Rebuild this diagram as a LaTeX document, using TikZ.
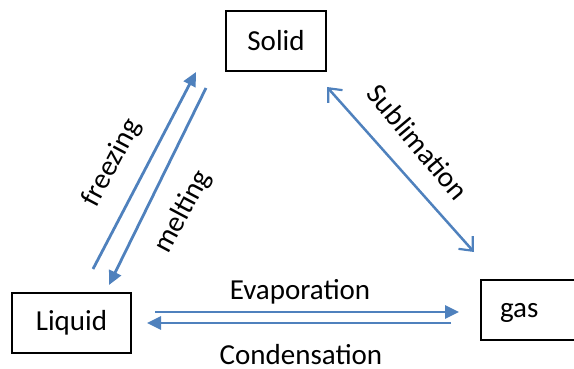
\documentclass[tikz,border=0pt]{standalone}
\usepackage{fontspec}
\setmainfont{Carlito}
\usetikzlibrary{arrows.meta}
\definecolor{phaseblue}{RGB}{79,129,189}

\begin{document}
\begin{tikzpicture}[x=1pt, y=-1pt,
    phase/.style={draw, line width=1.3pt, minimum height=60pt, inner sep=0pt,
        font=\fontsize{29}{35}\selectfont},
    flow/.style={phaseblue, line width=2.8pt, -{Triangle[length=14pt, width=13pt]}},
    twoway/.style={phaseblue, line width=2.5pt,
        {Straight Barb[length=11pt, width=19pt, line width=2.2pt]}-{Straight Barb[length=11pt, width=19pt, line width=2.2pt]}},
    word/.style={font=\fontsize{29}{35}\selectfont, inner sep=0pt}]
        \useasboundingbox (0,0) rectangle (574,369);

        % Draw the three phase boxes
        \node[phase, minimum width=100pt] (solid) at (276,41) {Solid};
        \node[phase, minimum width=119pt] (liquid) at (71.5,323) {Liquid};
        \node[phase, minimum width=120pt, text width=82pt, text depth=0pt, align=left, inner xsep=19pt] (gas) at (541,310) {gas};

        % End points of the arrows
        \coordinate (frz start) at (93,269);
        \coordinate (frz end) at (196,72);
        \coordinate (mlt start) at (206,88);
        \coordinate (mlt end) at (109,285);
        \coordinate (sub start) at (327,87);
        \coordinate (sub end) at (474,252);
        \coordinate (evp start) at (155,312);
        \coordinate (evp end) at (459,312);
        \coordinate (cnd start) at (451,323);
        \coordinate (cnd end) at (147,323);

        % Draw the transitions
        \draw[flow] (frz start) -- (frz end);
        \draw[flow] (mlt start) -- (mlt end);
        \draw[twoway] (sub start) -- (sub end);
        \draw[flow] (evp start) -- (evp end);
        \draw[flow] (cnd start) -- (cnd end);

        % Label the transitions
        \node[word, rotate=62] (freezing) at (112,163) {freezing};
        \node[word, rotate=62] (melting) at (183,212) {melting};
        \node[word, rotate=-50] (sublimation) at (418,142) {Sublimation};
        \node[word] (evaporation) at (300,292) {Evaporation};
        \node[word] (condensation) at (301,355) {Condensation};
    \end{tikzpicture}
\end{document}
